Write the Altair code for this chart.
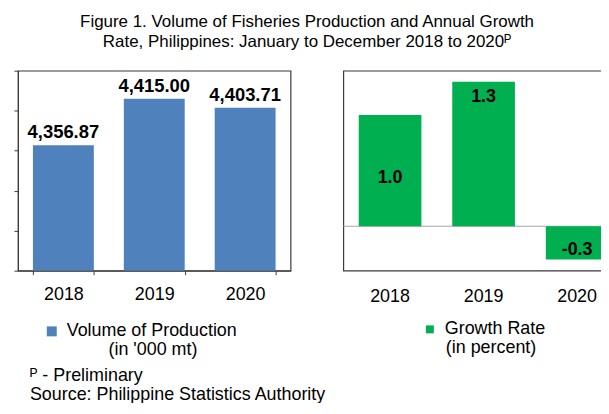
import altair as alt
import pandas as pd

# ---------------- data ----------------
years = ["2018", "2019", "2020"]
volume = [4356.87, 4415.00, 4403.71]
volume_labels = ["4,356.87", "4,415.00", "4,403.71"]
growth = [1.0, 1.3, -0.3]
growth_labels = ["1.0", "1.3", "-0.3"]
growth_label_place = ["center", "inside end", "center"]

volume_series = "Volume of Production"
volume_unit = "(in '000 mt)"
growth_series = "Growth Rate"
growth_unit = "(in percent)"

volume_ticks = [4200, 4250, 4300, 4350, 4400, 4450]
growth_domain = [-0.4, 1.4]
zero_line = [0]

title_lines = [
    "Figure 1. Volume of Fisheries Production and  Annual Growth",
    "Rate, Philippines: January to December 2018 to 2020\u1d3e",
]
note_preliminary = "\u1d3e - Preliminary"
note_source = "Source: Philippine Statistics Authority"

# ---------------- styles ----------------
FONT = "Liberation Sans"
BLUE = "#4F81BD"
GREEN = "#00B050"
FRAME = "#3a3a3a"
FS = 18
H = 201

vol_df = pd.DataFrame({"year": years, "value": volume, "label": volume_labels,
                       "series": [volume_series] * len(years)})
gr_df = pd.DataFrame({"year": years, "value": growth, "label": growth_labels,
                      "place": growth_label_place,
                      "series": [growth_series] * len(years)})


def band():
    return alt.Scale(paddingInner=0.33, paddingOuter=0.165)


def text_at(s, x, y):
    return alt.Chart(pd.DataFrame({"t": [s]})).mark_text(
        align="left", baseline="middle", font=FONT, fontSize=FS, color="black"
    ).encode(x=alt.value(x), y=alt.value(y), text="t:N")


# ---------------- left panel ----------------
x_left = alt.X("year:N", sort=years, title=None, scale=band(),
               axis=alt.Axis(labelAngle=0, tickBand="extent", ticks=True, tickSize=4,
                             tickColor=FRAME, domainColor=FRAME, grid=False,
                             labelFont=FONT, labelFontSize=FS, labelColor="black",
                             labelPadding=11))
y_left = alt.Y("value:Q", title=None,
               scale=alt.Scale(domain=[volume_ticks[0], volume_ticks[-1]], zero=False, nice=False),
               axis=alt.Axis(values=volume_ticks, labels=False, tickSize=4, tickColor=FRAME,
                             domainColor=FRAME, grid=False))

left_bars = alt.Chart(vol_df).mark_bar(clip=True).encode(
    x=x_left, y=y_left, y2=alt.datum(volume_ticks[0]),
    color=alt.Color("series:N", scale=alt.Scale(range=[BLUE]),
                    legend=alt.Legend(orient="none", legendX=25, legendY=253,
                                      title=None,
                                      labelFont=FONT, labelFontSize=FS, labelColor="black",
                                      labelOffset=6, labelLimit=400,
                                      symbolType="square", symbolSize=100,
                                      symbolStrokeWidth=0, padding=0)),
)
left_text = alt.Chart(vol_df).mark_text(
    baseline="alphabetic", dy=-7, font=FONT, fontSize=18.5, fontWeight="bold", color="black"
).encode(x=alt.X("year:N", sort=years), y="value:Q", text="label:N")

left = alt.layer(
    left_bars, left_text,
    text_at(volume_unit, 91, 281),
    text_at(note_preliminary, 12, 307),
    text_at(note_source, 12, 326),
).properties(width=274, height=H)

# ---------------- right panel ----------------
x_right = alt.X("year:N", sort=years, title=None, scale=band(),
                axis=alt.Axis(labelAngle=0, ticks=False, tickSize=0, domain=False, grid=False,
                              labelFont=FONT, labelFontSize=FS, labelColor="black",
                              labelPadding=17))
y_right = alt.Y("value:Q", title=None,
                scale=alt.Scale(domain=growth_domain, nice=False), axis=None)

zero_rule = alt.Chart(pd.DataFrame({"z": zero_line})).mark_rule(
    color="#a6a6a6", strokeWidth=1.2).encode(y=alt.Y("z:Q", axis=None))

right_bars = alt.Chart(gr_df).mark_bar().encode(
    x=x_right, y=y_right,
    color=alt.Color("series:N", scale=alt.Scale(range=[GREEN]),
                    legend=alt.Legend(orient="none", legendX=78, legendY=251,
                                      title=None,
                                      labelFont=FONT, labelFontSize=FS, labelColor="black",
                                      labelOffset=6, labelLimit=400,
                                      symbolType="square", symbolSize=64,
                                      symbolStrokeWidth=0, padding=0)),
)
right_text = alt.Chart(gr_df).transform_calculate(
    pos="datum.place == 'center' ? datum.value / 2 : datum.value - 0.074"
).mark_text(
    baseline="middle", dy=7, font=FONT, fontSize=18, fontWeight="bold", color="black"
).encode(x=alt.X("year:N", sort=years), y=alt.Y("pos:Q"), text="label:N")

right = alt.layer(
    zero_rule, right_bars, right_text,
    text_at(growth_unit, 103, 279),
).properties(width=282, height=H)

chart = alt.hconcat(left, right, spacing=53, bounds="flush").resolve_scale(
    color="independent"
).properties(
    title=alt.TitleParams(title_lines, anchor="middle", font=FONT, fontSize=17,
                          fontWeight="normal", color="black", lineHeight=19.5,
                          offset=19, dx=-12),
    padding={"left": 4, "top": 4, "right": -25, "bottom": -3},
).configure_view(stroke=FRAME, strokeWidth=1.2)

chart.save("out.html", embed_options={"renderer": "svg", "actions": False})
